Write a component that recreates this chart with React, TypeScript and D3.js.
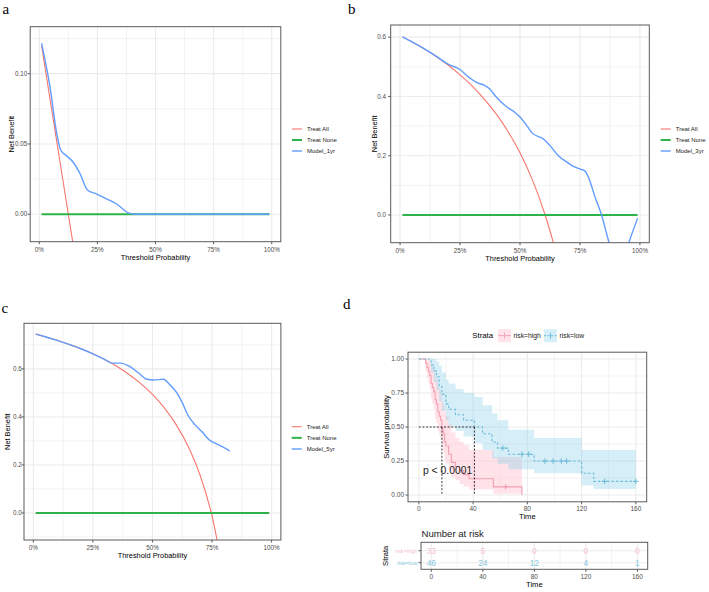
import * as d3 from "d3";
import { useEffect, useRef } from "react";

// ---- 面板 a (1 年) ----
const aAllX = [0.01, 0.05, 0.1, 0.15];
const aAllY = [0.12, 0.078, 0.026, -0.026];
const aModelX = [0.01, 0.046, 0.075, 0.092, 0.118, 0.146, 0.175, 0.207, 0.247, 0.29, 0.333, 0.383, 0.41, 0.99];
const aModelY = [0.1216, 0.0908, 0.0576, 0.0457, 0.0415, 0.037, 0.029, 0.0173, 0.0144, 0.0109, 0.0073, 0.001, 0, 0];
const aYTicks = [0, 0.05, 0.1];

// ---- 面板 b (3 年) ----
const bAllX = [0.01, 0.05, 0.1, 0.15, 0.2, 0.25, 0.3, 0.35, 0.4, 0.45, 0.5, 0.55, 0.6, 0.65, 0.7];
const bAllY = [0.601, 0.584, 0.561, 0.535, 0.506, 0.473, 0.436, 0.392, 0.342, 0.282, 0.21, 0.122, 0.012, -0.128, -0.32];
const bModelX = [0.01, 0.05, 0.1, 0.15, 0.2, 0.25, 0.28, 0.32, 0.35, 0.375, 0.4, 0.44, 0.48, 0.5, 0.53, 0.55, 0.6, 0.625, 0.66, 0.7, 0.725, 0.75, 0.77, 0.79, 0.81, 0.84, 0.87, 0.91, 0.955, 0.99];
const bModelY = [0.601, 0.584, 0.561, 0.536, 0.509, 0.491, 0.469, 0.447, 0.438, 0.424, 0.399, 0.368, 0.345, 0.331, 0.3, 0.277, 0.255, 0.234, 0.2, 0.176, 0.163, 0.155, 0.149, 0.118, 0.067, 0, -0.09, -0.2, -0.09, -0.011];
const bYTicks = [0, 0.2, 0.4, 0.6];

// ---- 面板 c (5 年) ----
const cAllX = [0.01, 0.05, 0.1, 0.15, 0.2, 0.25, 0.3, 0.35, 0.4, 0.45, 0.5, 0.55, 0.6, 0.65, 0.7, 0.75, 0.8];
const cAllY = [0.745, 0.734, 0.719, 0.702, 0.684, 0.663, 0.639, 0.611, 0.578, 0.54, 0.494, 0.438, 0.367, 0.277, 0.157, -0.012, -0.265];
const cModelX = [0.01, 0.05, 0.1, 0.15, 0.2, 0.25, 0.3, 0.33, 0.367, 0.4, 0.448, 0.476, 0.504, 0.546, 0.574, 0.602, 0.623, 0.651, 0.679, 0.707, 0.739, 0.769, 0.8, 0.825];
const cModelY = [0.745, 0.734, 0.719, 0.702, 0.684, 0.663, 0.639, 0.624, 0.624, 0.6125, 0.578, 0.557, 0.554, 0.557, 0.533, 0.501, 0.464, 0.404, 0.367, 0.339, 0.304, 0.2875, 0.272, 0.258];
const cYTicks = [0, 0.2, 0.4, 0.6];

const noneX = [0.01, 0.99];
const noneY = [0, 0];
const dcaXTicks = [0, 0.25, 0.5, 0.75, 1];
const dcaXMinor = [0.125, 0.375, 0.625, 0.875];
const dcaLegend = ["Treat All", "Treat None"];

// ---- 面板 d (KM) ----
const highTime = [0, 5, 6, 7, 8, 9, 10, 11, 12, 13, 14, 15, 16, 17, 18, 19, 20, 22, 24, 27, 30, 33, 37, 55, 76];
const highSurv = [1, 0.97, 0.94, 0.91, 0.88, 0.82, 0.79, 0.76, 0.7, 0.67, 0.61, 0.58, 0.55, 0.48, 0.45, 0.39, 0.36, 0.3, 0.24, 0.21, 0.18, 0.15, 0.12, 0.06, 0];
const highUpper = [1, 1, 1, 1, 0.98, 0.95, 0.93, 0.91, 0.87, 0.85, 0.8, 0.78, 0.75, 0.69, 0.66, 0.61, 0.58, 0.52, 0.46, 0.42, 0.39, 0.37, 0.33, 0.28, 0];
const highLower = [1, 0.91, 0.86, 0.82, 0.78, 0.71, 0.67, 0.63, 0.56, 0.53, 0.47, 0.44, 0.41, 0.34, 0.31, 0.26, 0.23, 0.18, 0.13, 0.11, 0.08, 0.06, 0.04, 0.01, 0];
const highCensor = [64];

const lowTime = [0, 9, 11, 13, 15, 17, 20, 22, 27, 33, 41, 47, 54, 58, 66, 85, 120, 129, 160];
const lowSurv = [1, 0.957, 0.913, 0.87, 0.8, 0.74, 0.67, 0.63, 0.59, 0.55, 0.5, 0.45, 0.39, 0.345, 0.3, 0.25, 0.16, 0.1, 0.1];
const lowUpper = [1, 1, 1, 0.98, 0.95, 0.9, 0.85, 0.82, 0.78, 0.75, 0.72, 0.66, 0.6, 0.55, 0.48, 0.42, 0.33, 0.33, 0.33];
const lowLower = [1, 0.9, 0.83, 0.77, 0.69, 0.62, 0.55, 0.51, 0.47, 0.43, 0.38, 0.33, 0.27, 0.23, 0.19, 0.16, 0.07, 0.045, 0.045];
const lowCensor = [62, 76, 81, 93, 99, 105, 109, 137, 160];

const kmXTicks = [0, 40, 80, 120, 160];
const kmXMinor = [20, 60, 100, 140];
const kmYTicks = [0, 0.25, 0.5, 0.75, 1];
const kmYMinor = [0.125, 0.375, 0.625, 0.875];
const riskTimes = [0, 40, 80, 120, 160];
const riskHigh = [33, 5, 0, 0, 0];
const riskLow = [46, 24, 12, 4, 1];
const strata = ["risk=high", "risk=low"];

const SANS = "'Liberation Sans', Arial, sans-serif";
const SERIF = "'Liberation Serif', 'Times New Roman', serif";
const RED = "#F8766D";
const GREEN = "#2DB34A";
const BLUE = "#619CFF";
const BORDER = "#5a5a5a";
const GRID = "#ebebeb";
const PINK_LINE = "#F2A0B3";
const PINK_FILL = "#FFC0CB";
const SKY_LINE = "#6DBBD8";
const SKY_FILL = "#87CEEB";

type Dca = {
  id: string; letter: string; letterX: number; letterY: number;
  left: number; right: number; top: number; bottom: number;
  yDomain: [number, number]; yTicks: number[]; yMinor: number[]; yFmt: string;
  yLabelX: number; yTitleX: number;
  allX: number[]; allY: number[]; modelX: number[]; modelY: number[];
  modelName: string; legendX: number; legendY: number; legendGap: number;
};

function drawDca(svg: any, p: Dca) {
  const x = d3.scaleLinear().domain([-0.039, 1.039]).range([p.left, p.right]);
  const y = d3.scaleLinear().domain(p.yDomain).range([p.bottom, p.top]);
  const g = svg.append("g");

  // 網格
  g.append("g").selectAll("line").data(dcaXMinor).join("line")
    .attr("x1", (d: number) => x(d)).attr("x2", (d: number) => x(d))
    .attr("y1", p.top).attr("y2", p.bottom).attr("stroke", GRID).attr("stroke-width", 0.6);
  g.append("g").selectAll("line").data(p.yMinor).join("line")
    .attr("x1", p.left).attr("x2", p.right)
    .attr("y1", (d: number) => y(d)).attr("y2", (d: number) => y(d)).attr("stroke", GRID).attr("stroke-width", 0.6);
  g.append("g").selectAll("line").data(dcaXTicks).join("line")
    .attr("x1", (d: number) => x(d)).attr("x2", (d: number) => x(d))
    .attr("y1", p.top).attr("y2", p.bottom).attr("stroke", GRID).attr("stroke-width", 1.1);
  g.append("g").selectAll("line").data(p.yTicks).join("line")
    .attr("x1", p.left).attr("x2", p.right)
    .attr("y1", (d: number) => y(d)).attr("y2", (d: number) => y(d)).attr("stroke", GRID).attr("stroke-width", 1.1);

  // 線
  g.append("clipPath").attr("id", p.id).append("rect")
    .attr("x", p.left).attr("y", p.top).attr("width", p.right - p.left).attr("height", p.bottom - p.top);
  const lines = g.append("g").attr("clip-path", `url(#${p.id})`);
  const mk = (xs: number[]) => d3.line<number>().x((_, i) => x(xs[i])).y((d) => y(d)).curve(d3.curveMonotoneX);
  lines.append("path").datum(p.allY).attr("d", mk(p.allX)).attr("fill", "none").attr("stroke", RED).attr("stroke-width", 1.1);
  lines.append("path").datum(noneY).attr("d", mk(noneX)).attr("fill", "none").attr("stroke", GREEN).attr("stroke-width", 2);
  lines.append("path").datum(p.modelY).attr("d", mk(p.modelX)).attr("fill", "none").attr("stroke", BLUE).attr("stroke-width", 1.4);

  // 外框
  g.append("rect").attr("x", p.left).attr("y", p.top).attr("width", p.right - p.left).attr("height", p.bottom - p.top)
    .attr("fill", "none").attr("stroke", BORDER).attr("stroke-width", 1);

  // 刻度
  g.append("g").selectAll("line").data(dcaXTicks).join("line")
    .attr("x1", (d: number) => x(d)).attr("x2", (d: number) => x(d))
    .attr("y1", p.bottom).attr("y2", p.bottom + 2.5).attr("stroke", BORDER);
  g.append("g").selectAll("text").data(dcaXTicks).join("text")
    .attr("x", (d: number) => x(d)).attr("y", p.bottom + 7.8).attr("dy", "0.35em")
    .attr("text-anchor", "middle").attr("font-size", 6.3).attr("fill", "#4d4d4d").attr("font-family", SANS)
    .text((d: number) => d3.format(".0%")(d));
  g.append("g").selectAll("line").data(p.yTicks).join("line")
    .attr("x1", p.left - 2.5).attr("x2", p.left)
    .attr("y1", (d: number) => y(d)).attr("y2", (d: number) => y(d)).attr("stroke", BORDER);
  g.append("g").selectAll("text").data(p.yTicks).join("text")
    .attr("x", p.yLabelX).attr("y", (d: number) => y(d)).attr("dy", "0.35em")
    .attr("text-anchor", "end").attr("font-size", 6.3).attr("fill", "#4d4d4d").attr("font-family", SANS)
    .text((d: number) => d3.format(p.yFmt)(d));

  // 軸標題
  g.append("text").attr("x", (p.left + p.right) / 2).attr("y", p.bottom + 15.3).attr("dy", "0.35em")
    .attr("text-anchor", "middle").attr("font-size", 7.4).attr("font-family", SANS).text("Threshold Probability");
  g.append("text").attr("transform", `translate(${p.yTitleX},${(p.top + p.bottom) / 2}) rotate(-90)`).attr("dy", "0.35em")
    .attr("text-anchor", "middle").attr("font-size", 7.4).attr("font-family", SANS).text("Net Benefit");

  // 圖例
  const legend = [
    { name: dcaLegend[0], color: RED, w: 1.1 },
    { name: dcaLegend[1], color: GREEN, w: 2 },
    { name: p.modelName, color: BLUE, w: 1.4 },
  ];
  legend.forEach((l, i) => {
    const ly = p.legendY + i * p.legendGap;
    g.append("line").attr("x1", p.legendX).attr("x2", p.legendX + 10).attr("y1", ly).attr("y2", ly)
      .attr("stroke", l.color).attr("stroke-width", l.w);
    g.append("text").attr("x", p.legendX + 15).attr("y", ly).attr("dy", "0.35em")
      .attr("font-size", 6).attr("font-family", SANS).attr("fill", "#222").text(l.name);
  });

  svg.append("text").attr("x", p.letterX).attr("y", p.letterY).attr("font-size", 15)
    .attr("font-family", SERIF).text(p.letter);
}

function drawKm(svg: any) {
  const L = 408, R = 646.7, T = 352.2, B = 501.8;
  const x = d3.scaleLinear().domain([-8, 168]).range([L, R]);
  const y = d3.scaleLinear().domain([-0.05, 1.05]).range([B, T]);
  const g = svg.append("g");

  const vline = (data: number[], w: number) => g.append("g").selectAll("line").data(data).join("line")
    .attr("x1", (d: number) => x(d)).attr("x2", (d: number) => x(d)).attr("y1", T).attr("y2", B)
    .attr("stroke", GRID).attr("stroke-width", w);
  const hline = (data: number[], w: number) => g.append("g").selectAll("line").data(data).join("line")
    .attr("x1", L).attr("x2", R).attr("y1", (d: number) => y(d)).attr("y2", (d: number) => y(d))
    .attr("stroke", GRID).attr("stroke-width", w);
  vline(kmXMinor, 0.6); hline(kmYMinor, 0.6); vline(kmXTicks, 1.1); hline(kmYTicks, 1.1);

  const band = (ts: number[], lo: number[], up: number[]) =>
    d3.area<number>().x((_, i) => x(ts[i])).y0((_, i) => y(lo[i])).y1((d) => y(d)).curve(d3.curveStepAfter)(up);
  const step = (ts: number[], ss: number[]) =>
    d3.line<number>().x((_, i) => x(ts[i])).y((d) => y(d)).curve(d3.curveStepAfter)(ss);

  g.append("path").attr("d", band(highTime, highLower, highUpper)).attr("fill", PINK_FILL).attr("opacity", 0.45);
  g.append("path").attr("d", band(lowTime, lowLower, lowUpper)).attr("fill", SKY_FILL).attr("opacity", 0.35);
  g.append("path").attr("d", step(highTime, highSurv)).attr("fill", "none").attr("stroke", PINK_LINE).attr("stroke-width", 1.1);
  g.append("path").attr("d", step(lowTime, lowSurv)).attr("fill", "none").attr("stroke", SKY_LINE)
    .attr("stroke-width", 1.1).attr("stroke-dasharray", "2.5,2");

  // 刪失點
  const survAt = (ts: number[], ss: number[], t: number) => ss[d3.bisectRight(ts, t) - 1];
  const plus = (t: number, s: number, color: string) => {
    g.append("path").attr("d", `M${x(t) - 2.8},${y(s)}H${x(t) + 2.8}M${x(t)},${y(s) - 2.8}V${y(s) + 2.8}`)
      .attr("stroke", color).attr("stroke-width", 1);
  };
  highCensor.forEach((t) => plus(t, survAt(highTime, highSurv, t), PINK_LINE));
  lowCensor.forEach((t) => plus(t, survAt(lowTime, lowSurv, t), SKY_LINE));

  // 中位數
  const medHigh = highTime[highSurv.findIndex((s) => s <= 0.5)];
  const medLow = lowTime[lowSurv.findIndex((s) => s <= 0.5)];
  const dash = (x1: number, y1: number, x2: number, y2: number) =>
    g.append("line").attr("x1", x(x1)).attr("y1", y(y1)).attr("x2", x(x2)).attr("y2", y(y2))
      .attr("stroke", "#222").attr("stroke-width", 0.9).attr("stroke-dasharray", "2,1.6");
  dash(0, 0.5, medLow, 0.5);
  dash(medHigh, 0.5, medHigh, 0);
  dash(medLow, 0.5, medLow, 0);

  g.append("text").attr("x", x(3)).attr("y", y(0.18)).attr("dy", "0.35em").attr("font-size", 10.4)
    .attr("font-family", SANS).attr("fill", "#222").text("p < 0.0001");

  g.append("rect").attr("x", L).attr("y", T).attr("width", R - L).attr("height", B - T)
    .attr("fill", "none").attr("stroke", BORDER);

  // 座標軸
  g.append("g").selectAll("line").data(kmXTicks).join("line")
    .attr("x1", (d: number) => x(d)).attr("x2", (d: number) => x(d)).attr("y1", B).attr("y2", B + 2.5).attr("stroke", BORDER);
  g.append("g").selectAll("text").data(kmXTicks).join("text")
    .attr("x", (d: number) => x(d)).attr("y", B + 7).attr("dy", "0.35em").attr("text-anchor", "middle")
    .attr("font-size", 6.5).attr("fill", "#4d4d4d").attr("font-family", SANS).text((d: number) => d);
  g.append("g").selectAll("line").data(kmYTicks).join("line")
    .attr("x1", L - 2.5).attr("x2", L).attr("y1", (d: number) => y(d)).attr("y2", (d: number) => y(d)).attr("stroke", BORDER);
  g.append("g").selectAll("text").data(kmYTicks).join("text")
    .attr("x", L - 4).attr("y", (d: number) => y(d)).attr("dy", "0.35em").attr("text-anchor", "end")
    .attr("font-size", 6.5).attr("fill", "#4d4d4d").attr("font-family", SANS).text((d: number) => d3.format(".2f")(d));
  g.append("text").attr("x", (L + R) / 2).attr("y", B + 15).attr("dy", "0.35em").attr("text-anchor", "middle")
    .attr("font-size", 7.6).attr("font-family", SANS).text("Time");
  g.append("text").attr("transform", `translate(386.3,${(T + B) / 2}) rotate(-90)`).attr("dy", "0.35em")
    .attr("text-anchor", "middle").attr("font-size", 7.6).attr("font-family", SANS).text("Survival probability");

  // 圖例
  const ly = 335.7;
  g.append("text").attr("x", 472.3).attr("y", ly).attr("dy", "0.35em").attr("font-size", 7.8)
    .attr("font-family", SANS).text("Strata");
  const keys = [
    { x: 498, name: strata[0], line: PINK_LINE, fill: PINK_FILL, op: 0.45, dash: null },
    { x: 544, name: strata[1], line: SKY_LINE, fill: SKY_FILL, op: 0.35, dash: "2,1.5" },
  ];
  keys.forEach((k) => {
    g.append("rect").attr("x", k.x).attr("y", ly - 6.5).attr("width", 13).attr("height", 13)
      .attr("fill", k.fill).attr("opacity", k.op);
    g.append("line").attr("x1", k.x).attr("x2", k.x + 13).attr("y1", ly).attr("y2", ly)
      .attr("stroke", k.line).attr("stroke-width", 1).attr("stroke-dasharray", k.dash);
    g.append("line").attr("x1", k.x + 6.5).attr("x2", k.x + 6.5).attr("y1", ly - 3).attr("y2", ly + 3)
      .attr("stroke", k.line).attr("stroke-width", 1);
    g.append("text").attr("x", k.x + 15.5).attr("y", ly).attr("dy", "0.35em").attr("font-size", 6.8)
      .attr("font-family", SANS).attr("fill", "#222").text(k.name);
  });

  // ---- 風險表 ----
  const tl = 421, tr = 647.7, tt = 542.3, tb = 569.3;
  const tx = d3.scaleLinear().domain([-8, 168]).range([tl, tr]);
  const rowY = d3.scalePoint<string>().domain(strata).range([550.7, 562.7]);
  const t = svg.append("g");
  t.append("text").attr("x", tl + 0.5).attr("y", 534).attr("dy", "0.35em").attr("font-size", 9.6)
    .attr("font-family", SANS).attr("fill", "#222").text("Number at risk");
  t.append("g").selectAll("line").data(kmXMinor).join("line")
    .attr("x1", (d: number) => tx(d)).attr("x2", (d: number) => tx(d)).attr("y1", tt).attr("y2", tb)
    .attr("stroke", GRID).attr("stroke-width", 0.6);
  t.append("g").selectAll("line").data(kmXTicks).join("line")
    .attr("x1", (d: number) => tx(d)).attr("x2", (d: number) => tx(d)).attr("y1", tt).attr("y2", tb)
    .attr("stroke", GRID).attr("stroke-width", 1.1);
  t.append("g").selectAll("line").data(strata).join("line")
    .attr("x1", tl).attr("x2", tr).attr("y1", (d: string) => rowY(d)).attr("y2", (d: string) => rowY(d))
    .attr("stroke", GRID).attr("stroke-width", 1.1);
  const rows = [
    { name: strata[0], vals: riskHigh, color: "#F6BFCA" },
    { name: strata[1], vals: riskLow, color: "#84C7E0" },
  ];
  rows.forEach((r) => {
    t.append("g").selectAll("text").data(r.vals).join("text")
      .attr("x", (_: number, i: number) => tx(riskTimes[i])).attr("y", rowY(r.name)).attr("dy", "0.36em")
      .attr("text-anchor", "middle").attr("font-size", 8.4).attr("font-family", SANS).attr("fill", r.color)
      .text((d: number) => d);
    t.append("text").attr("x", tl - 3.5).attr("y", rowY(r.name)).attr("dy", "0.35em").attr("text-anchor", "end")
      .attr("font-size", 5.6).attr("font-family", SANS).attr("fill", r.color).text(r.name);
    t.append("line").attr("x1", tl - 2.5).attr("x2", tl).attr("y1", rowY(r.name)).attr("y2", rowY(r.name))
      .attr("stroke", BORDER);
  });
  t.append("rect").attr("x", tl).attr("y", tt).attr("width", tr - tl).attr("height", tb - tt)
    .attr("fill", "none").attr("stroke", BORDER);
  t.append("g").selectAll("line").data(kmXTicks).join("line")
    .attr("x1", (d: number) => tx(d)).attr("x2", (d: number) => tx(d)).attr("y1", tb).attr("y2", tb + 2.5).attr("stroke", BORDER);
  t.append("g").selectAll("text").data(kmXTicks).join("text")
    .attr("x", (d: number) => tx(d)).attr("y", tb + 7).attr("dy", "0.35em").attr("text-anchor", "middle")
    .attr("font-size", 6.5).attr("fill", "#4d4d4d").attr("font-family", SANS).text((d: number) => d);
  t.append("text").attr("x", (tl + tr) / 2).attr("y", tb + 15).attr("dy", "0.35em").attr("text-anchor", "middle")
    .attr("font-size", 7.6).attr("font-family", SANS).text("Time");
  t.append("text").attr("transform", `translate(385,${(tt + tb) / 2}) rotate(-90)`).attr("dy", "0.35em")
    .attr("text-anchor", "middle").attr("font-size", 7.6).attr("font-family", SANS).text("Strata");

  svg.append("text").attr("x", 343).attr("y", 308.5).attr("font-size", 15).attr("font-family", SERIF).text("d");
}

export default function App() {
  const ref = useRef<SVGSVGElement>(null);

  useEffect(() => {
    const svg = d3.select(ref.current);
    svg.selectAll("*").remove();
    svg.append("rect").attr("width", 709).attr("height", 592).attr("fill", "#fff");

    drawDca(svg, {
      id: "clipA", letter: "a", letterX: 2.5, letterY: 14,
      left: 30.2, right: 280.8, top: 26.7, bottom: 241.7,
      yDomain: [-0.0195, 0.1334], yTicks: aYTicks, yMinor: [0.025, 0.075, 0.125], yFmt: ".2f",
      yLabelX: 27.3, yTitleX: 11,
      allX: aAllX, allY: aAllY, modelX: aModelX, modelY: aModelY,
      modelName: "Model_1yr", legendX: 292, legendY: 129, legendGap: 11,
    });
    drawDca(svg, {
      id: "clipB", letter: "b", letterX: 348, letterY: 14,
      left: 390.7, right: 649.3, top: 25, bottom: 242.7,
      yDomain: [-0.0934, 0.641], yTicks: bYTicks, yMinor: [0.1, 0.3, 0.5], yFmt: ".1f",
      yLabelX: 386, yTitleX: 374.7,
      allX: bAllX, allY: bAllY, modelX: bModelX, modelY: bModelY,
      modelName: "Model_3yr", legendX: 660.7, legendY: 129, legendGap: 11,
    });
    drawDca(svg, {
      id: "clipC", letter: "c", letterX: 1.5, letterY: 313,
      left: 24, right: 280.9, top: 323.3, bottom: 540,
      yDomain: [-0.1125, 0.79], yTicks: cYTicks, yMinor: [-0.1, 0.1, 0.3, 0.5, 0.7], yFmt: ".1f",
      yLabelX: 21.7, yTitleX: 7,
      allX: cAllX, allY: cAllY, modelX: cModelX, modelY: cModelY,
      modelName: "Model_5yr", legendX: 291.7, legendY: 426.7, legendGap: 11.15,
    });
    drawKm(svg);
  }, []);

  return (
    <svg
      ref={ref}
      width={709}
      height={592}
      style={{ position: "absolute", left: 0, top: 0, display: "block" }}
    />
  );
}
